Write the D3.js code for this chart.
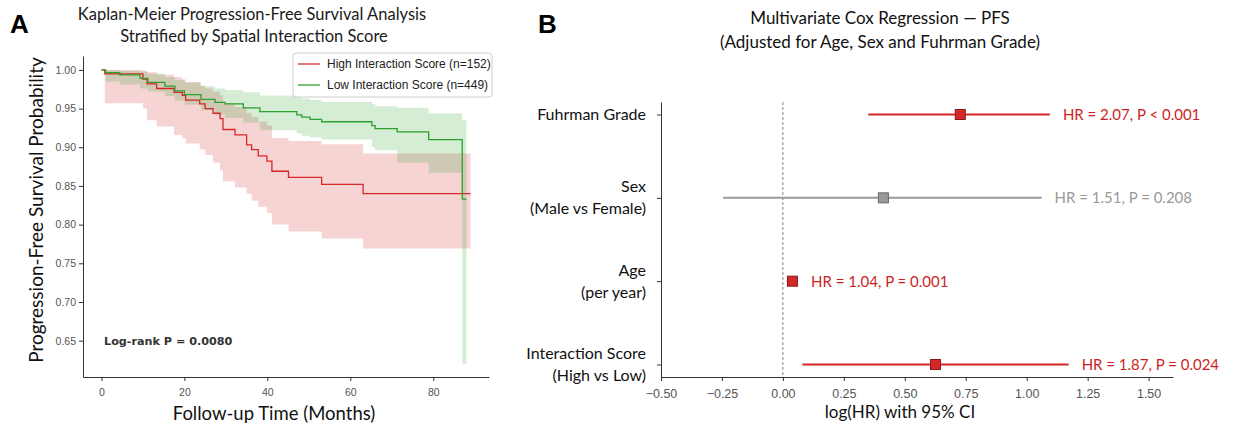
<!DOCTYPE html>
<html>
<head>
<meta charset="utf-8">
<script src="https://cdn.jsdelivr.net/npm/d3@7"></script>
<style>
  html, body { margin: 0; padding: 0; background: #fff; }
  svg { display: block; }
</style>
</head>
<body>
<svg id="fig" width="1233" height="431"></svg>
<script>
// ---- Panel A: Kaplan-Meier PFS by interaction score ----
const monthTicks = [0, 20, 40, 60, 80];
const survTicks = [0.65, 0.70, 0.75, 0.80, 0.85, 0.90, 0.95, 1.00];

const highTime  = [0, 0.8, 10, 11, 13.3, 17.5, 19.5, 20.3, 23.7, 25, 26.9, 28.6, 29.3, 32.2, 35, 36.2, 37.8, 39.9, 41.1, 45.1, 53.1, 63.1, 89];
const highSurv  = [1, .995, .988, .982, .976, .971, .967, .961, .956, .950, .944, .937, .923, .916, .903, .897, .889, .882, .869, .861, .852, .840, .840];
const highLower = [1, .957, .950, .935, .927, .916, .912, .905, .897, .890, .880, .870, .856, .848, .840, .831, .823, .815, .800, .791, .782, .769, .769];
const highUpper = [1, 1, .999, .997, .994, .991, .988, .984, .980, .976, .972, .967, .957, .952, .944, .939, .933, .928, .912, .908, .904, .892, .892];

const lowTime  = [0, 1, 4.4, 9.3, 11.2, 15.3, 17.7, 20, 24, 27.4, 29.8, 34.2, 38.2, 47.1, 48.3, 50.3, 53.1, 65.2, 66, 71.3, 78.9, 87, 88];
const lowSurv  = [1, .9965, .9935, .989, .984, .979, .973, .968, .962, .958, .956, .951, .946, .942, .939, .936, .933, .928, .924, .920, .910, .833, .833];
const lowLower = [1, .985, .981, .976, .972, .966, .960, .955, .948, .942, .938, .932, .922, .918, .915, .913, .910, .900, .896, .880, .867, .620, .620];
const lowUpper = [1, 1, .999, .998, .995, .991, .987, .984, .979, .976, .974, .971, .967, .965, .963, .961, .959, .956, .953, .951, .944, .935, .935];

const groupNames = ["High Interaction Score (n=152)", "Low Interaction Score (n=449)"];
const logRankText = "Log-rank P = 0.0080";

// ---- Panel B: multivariate Cox forest plot ----
const covariateLines = [["Fuhrman Grade"], ["Sex", "(Male vs Female)"], ["Age", "(per year)"], ["Interaction Score", "(High vs Low)"]];
const hazardRatio = [2.07, 1.51, 1.04, 1.87];
const logCiLow  = [0.35, -0.245, 0.016, 0.08];
const logCiHigh = [1.095, 1.061, 0.062, 1.172];
const pText = ["P < 0.001", "P = 0.208", "P = 0.001", "P = 0.024"];
const significant = [true, false, true, true];
const logHrTicks = [-0.5, -0.25, 0, 0.25, 0.5, 0.75, 1.0, 1.25, 1.5];

const RED = "#d62728", GREEN = "#2ca02c";
const TITLE_FONT = "Lato, 'Open Sans', sans-serif";
const TICK_FONT = "'Liberation Sans', Arial, sans-serif";

const svg = d3.select("#fig");

// ================= Panel A =================
const x = d3.scaleLinear().domain([-4.45, 93.45]).range([83, 489]);
const y = d3.scaleLinear().domain([0.603, 1.018]).range([377, 56]);

const gA = svg.append("g");

function series(t, s, lo, hi) {
  return t.map((d, i) => ({ t: d, s: s[i], lo: lo[i], hi: hi[i] }));
}
const high = series(highTime, highSurv, highLower, highUpper);
const low = series(lowTime, lowSurv, lowLower, lowUpper);

const band = d3.area().curve(d3.curveStepAfter)
  .x(d => x(d.t)).y0(d => y(d.lo)).y1(d => y(d.hi));
const line = d3.line().curve(d3.curveStepAfter)
  .x(d => x(d.t)).y(d => y(d.s));

gA.append("path").attr("d", band(high)).attr("fill", RED).attr("fill-opacity", 0.2);
gA.append("path").attr("d", band(low)).attr("fill", GREEN).attr("fill-opacity", 0.2);
gA.append("path").attr("d", line(high)).attr("fill", "none").attr("stroke", RED).attr("stroke-width", 1.3);
gA.append("path").attr("d", line(low)).attr("fill", "none").attr("stroke", GREEN).attr("stroke-width", 1.3);

// axes
const xAxisA = gA.append("g").attr("transform", "translate(0,377)")
  .call(d3.axisBottom(x).tickValues(monthTicks).tickFormat(d3.format("d")).tickSize(4).tickSizeOuter(0));
const yAxisA = gA.append("g").attr("transform", "translate(83,0)")
  .call(d3.axisLeft(y).tickValues(survTicks).tickFormat(d3.format(".2f")).tickSize(4).tickSizeOuter(0));
[xAxisA, yAxisA].forEach(a => {
  a.select(".domain").attr("stroke", "#333").attr("stroke-width", 1);
  a.selectAll(".tick line").attr("stroke", "#333");
  a.selectAll(".tick text").attr("fill", "#555").style("font-family", TICK_FONT).style("font-size", "10.5px");
});
xAxisA.selectAll(".tick text").attr("dy", "1.1em");

gA.append("text").attr("x", 104).attr("y", 345)
  .style("font-family", "'DejaVu Sans', sans-serif").style("font-size", "11.2px").style("font-weight", "bold")
  .attr("fill", "#333").text(logRankText);

// legend
const leg = gA.append("g").attr("transform", "translate(293,53)");
leg.append("rect").attr("width", 199).attr("height", 44).attr("rx", 3)
  .attr("fill", "#fff").attr("fill-opacity", 0.85).attr("stroke", "#ccc");
[RED, GREEN].forEach((c, i) => {
  const yy = 11 + i * 21;
  leg.append("line").attr("x1", 5).attr("x2", 27).attr("y1", yy).attr("y2", yy).attr("stroke", c).attr("stroke-width", 1.3);
  leg.append("text").attr("x", 34).attr("y", yy + 4).text(groupNames[i])
    .style("font-family", TICK_FONT).style("font-size", "12px").attr("fill", "#222");
});

// titles
gA.append("text").attr("x", 252).attr("y", 20).attr("text-anchor", "middle")
  .style("font-family", TITLE_FONT).style("font-size", "16.5px").attr("fill", "#1a1a1a")
  .text("Kaplan-Meier Progression-Free Survival Analysis");
gA.append("text").attr("x", 254).attr("y", 42).attr("text-anchor", "middle")
  .style("font-family", TITLE_FONT).style("font-size", "16.5px").attr("fill", "#1a1a1a")
  .text("Stratified by Spatial Interaction Score");
gA.append("text").attr("x", 274).attr("y", 420).attr("text-anchor", "middle")
  .style("font-family", TITLE_FONT).style("font-size", "18.5px").attr("fill", "#111")
  .text("Follow-up Time (Months)");
gA.append("text").attr("transform", "translate(43,210) rotate(-90)").attr("text-anchor", "middle")
  .style("font-family", TITLE_FONT).style("font-size", "19px").attr("fill", "#111")
  .text("Progression-Free Survival  Probability");
gA.append("text").attr("x", 10).attr("y", 33)
  .style("font-family", "'Liberation Sans', Arial, sans-serif").style("font-size", "26px").style("font-weight", "bold")
  .text("A");

// ================= Panel B =================
const xb = d3.scaleLinear().domain([-0.5, 1.6]).range([661, 1173]);
const yb = d3.scaleLinear().domain([3.15, -0.15]).range([102, 377]);
const rowPos = covariateLines.map((_, i) => 3 - i);

const gB = svg.append("g");

gB.append("line").attr("x1", xb(0)).attr("x2", xb(0)).attr("y1", 102).attr("y2", 377)
  .attr("stroke", "#888").attr("stroke-width", 1).attr("stroke-dasharray", "3,2");

const rows = covariateLines.map((lines, i) => ({
  lines, hr: hazardRatio[i], lhr: Math.log(hazardRatio[i]),
  lo: logCiLow[i], hi: logCiHigh[i], p: pText[i], sig: significant[i], pos: rowPos[i]
}));

rows.forEach(r => {
  const col = r.sig ? RED : "#9a9a9a";
  const edge = r.sig ? "#8b1a1a" : "#666";
  const cy = yb(r.pos);
  gB.append("line").attr("x1", xb(r.lo)).attr("x2", xb(r.hi)).attr("y1", cy).attr("y2", cy)
    .attr("stroke", col).attr("stroke-width", 2);
  gB.append("rect").attr("x", xb(r.lhr) - 5).attr("y", cy - 5).attr("width", 10).attr("height", 10)
    .attr("fill", col).attr("stroke", edge).attr("stroke-width", 1);
  gB.append("text").attr("x", xb(r.hi) + 13).attr("y", cy + 5.5)
    .style("font-family", TITLE_FONT).style("font-size", "15px").attr("fill", r.sig ? "#cc1f24" : "#999")
    .text(`HR = ${r.hr.toFixed(2)}, ${r.p}`);
});

const xAxisB = gB.append("g").attr("transform", "translate(0,377)")
  .call(d3.axisBottom(xb).tickValues(logHrTicks).tickFormat(d3.format(".2f")).tickSize(4).tickSizeOuter(0));
const yAxisB = gB.append("g").attr("transform", "translate(661,0)")
  .call(d3.axisLeft(yb).tickValues(rowPos).tickFormat("").tickSize(4).tickSizeOuter(0));
[xAxisB, yAxisB].forEach(a => {
  a.select(".domain").attr("stroke", "#333").attr("stroke-width", 1);
  a.selectAll(".tick line").attr("stroke", "#333");
  a.selectAll(".tick text").attr("fill", "#555").style("font-family", TICK_FONT).style("font-size", "12.5px");
});
xAxisB.selectAll(".tick text").attr("dy", "1.1em");

// covariate labels
rows.forEach(r => {
  const cy = yb(r.pos);
  const n = r.lines.length;
  const t = gB.append("text").attr("text-anchor", "end")
    .style("font-family", TITLE_FONT).style("font-size", "16px").attr("fill", "#111");
  r.lines.forEach((ln, k) => {
    t.append("tspan").attr("x", 646).attr("y", cy + 5.5 + (k - (n - 1) / 2) * 22).text(ln);
  });
});

gB.append("text").attr("x", 880).attr("y", 24).attr("text-anchor", "middle")
  .style("font-family", TITLE_FONT).style("font-size", "17px").attr("fill", "#111")
  .text("Multivariate Cox Regression \u2014 PFS");
gB.append("text").attr("x", 880).attr("y", 48).attr("text-anchor", "middle")
  .style("font-family", TITLE_FONT).style("font-size", "17px").attr("fill", "#111")
  .text("(Adjusted for Age, Sex and Fuhrman Grade)");
gB.append("text").attr("x", 900).attr("y", 418).attr("text-anchor", "middle")
  .style("font-family", TITLE_FONT).style("font-size", "17px").attr("fill", "#111")
  .text("log(HR) with 95% CI");
gB.append("text").attr("x", 538).attr("y", 33)
  .style("font-family", "'Liberation Sans', Arial, sans-serif").style("font-size", "26px").style("font-weight", "bold")
  .text("B");
</script>
</body>
</html>
